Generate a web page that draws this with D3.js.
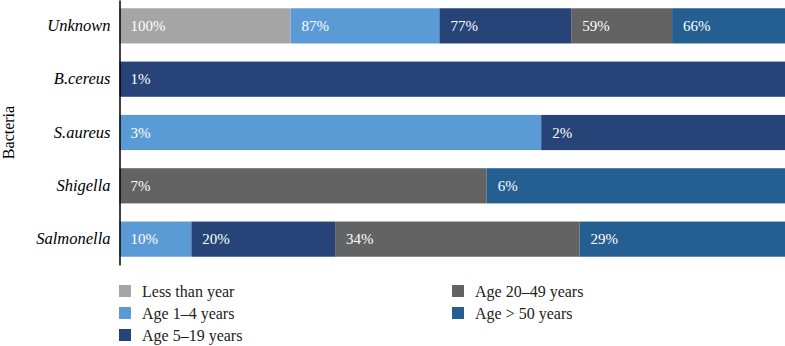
<!DOCTYPE html>
<html><head><meta charset="utf-8">
<script src="https://cdn.jsdelivr.net/npm/d3@7"></script>
<style>body{margin:0;background:#fff}svg{display:block}</style>
</head><body>
<script>
const categories = ["Unknown","B.cereus","S.aureus","Shigella","Salmonella"];
const seriesNames = ["Less than year","Age 1–4 years","Age 5–19 years","Age 20–49 years","Age > 50 years"];
const lessThanYear = [100, 0, 0, 0, 0];
const age1to4 = [87, 0, 3.2, 0, 10];
const age5to19 = [77, 1, 1.85, 0, 20];
const age20to49 = [59, 0, 0, 7.2, 34];
const ageOver50 = [66, 0, 0, 5.85, 28.6];
const colors = ["#a5a5a5","#5b9bd5","#264478","#636363","#255e91"];

(function(){
const W = 785, H = 346;
const svg = d3.select("body").append("svg").attr("width", W).attr("height", H);
const font = '"Liberation Serif", "Times New Roman", Times, "DejaVu Serif", serif';

const pLeft = 119.5, pRight = 785, pTop = 0, pBottom = 265;
const series = [lessThanYear, age1to4, age5to19, age20to49, ageOver50];

const y = d3.scaleBand().domain(categories).range([pTop, pBottom]).paddingInner(0.34).paddingOuter(0.155);
const x = d3.scaleLinear().domain([0, 1]).range([pLeft, pRight]);

const rows = categories.map((c, i) => {
  const vals = series.map(s => s[i]);
  const total = d3.sum(vals);
  let acc = 0;
  return vals.map((v, k) => {
    const seg = {cat: c, k, v, x0: acc / total, x1: (acc + v) / total};
    acc += v;
    return seg;
  }).filter(s => s.v > 0);
}).flat();

svg.append("g").selectAll("rect").data(rows).join("rect")
  .attr("x", d => x(d.x0)).attr("width", d => x(d.x1) - x(d.x0))
  .attr("y", d => y(d.cat)).attr("height", y.bandwidth())
  .attr("fill", d => colors[d.k]);

svg.append("g").selectAll("text").data(rows).join("text")
  .attr("x", d => x(d.x0) + 11).attr("y", d => y(d.cat) + y.bandwidth() / 2)
  .attr("dy", "0.35em").attr("fill", "#fff")
  .attr("font-family", font).attr("font-size", "15px")
  .text(d => Math.round(d.v) + "%");

const yAxis = svg.append("g").attr("transform", `translate(${pLeft},0)`)
  .call(d3.axisLeft(y).tickSize(0).tickPadding(9));
yAxis.attr("font-family", null).attr("font-size", null);
yAxis.select(".domain").attr("stroke", "#000").attr("stroke-width", 1.5);
yAxis.selectAll("text").attr("font-family", font).attr("font-size", "16.5px")
  .attr("font-style", "italic").attr("fill", "#000");

svg.append("text").attr("transform", `translate(14,${(pTop + pBottom) / 2}) rotate(-90)`)
  .attr("text-anchor", "middle").attr("font-family", font).attr("font-size", "16px")
  .text("Bacteria");

const legendPos = [[119, 291], [119, 313], [119, 335], [452, 291], [452, 313]];
const lg = svg.append("g").selectAll("g").data(seriesNames).join("g")
  .attr("transform", (d, i) => `translate(${legendPos[i][0]},${legendPos[i][1]})`);
lg.append("rect").attr("x", 0).attr("y", -6).attr("width", 12).attr("height", 12)
  .attr("fill", (d, i) => colors[i]);
lg.append("text").attr("x", 23).attr("dy", "0.35em")
  .attr("font-family", font).attr("font-size", "16px").attr("fill", "#222")
  .text(d => d);
})();
</script>
</body></html>
